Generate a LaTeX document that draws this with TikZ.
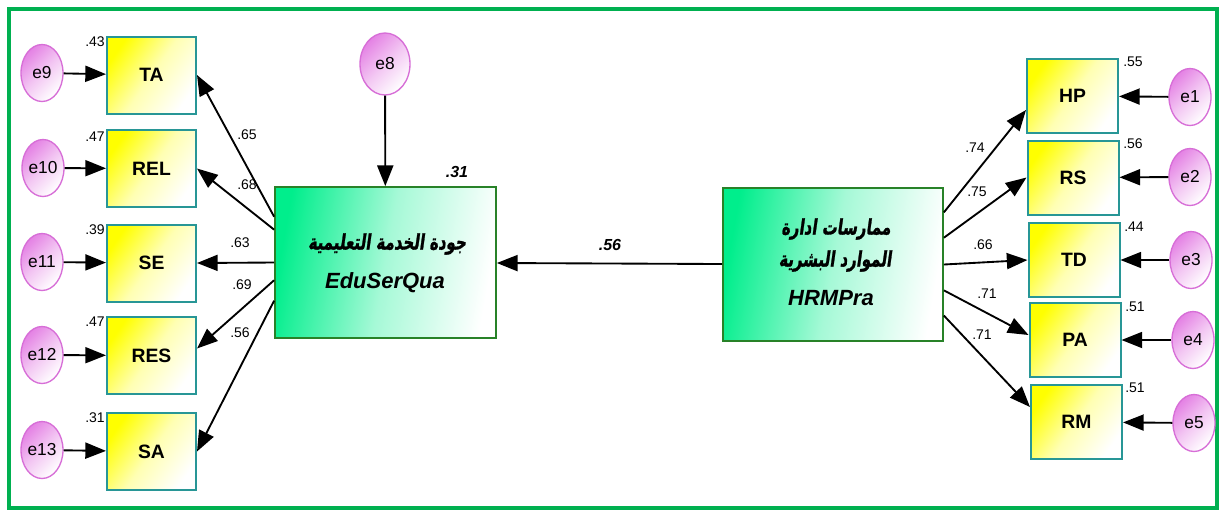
\documentclass[tikz,border=0pt]{standalone}
\usepackage{fontspec}
\setmainfont{Liberation Sans}
\newfontfamily\arabicfont[Script=Arabic,FakeSlant=0.2,FakeBold=1.6]{DejaVu Sans}
\TeXXeTstate=1
\usetikzlibrary{arrows.meta,calc,shapes.geometric}
\definecolor{frameg}{RGB}{0,176,80}
\definecolor{teal}{RGB}{40,150,150}
\definecolor{dgreen}{RGB}{40,130,40}
\definecolor{sgreen}{RGB}{0,238,140}
\definecolor{pinkb}{RGB}{215,110,215}
\definecolor{pinkf}{RGB}{228,130,228}
\newcommand{\artxt}[1]{\scalebox{0.7}[1]{\arabicfont\bfseries\fontsize{16}{19}\selectfont\beginR #1\endR}}
\tikzset{
  obs/.style={draw=teal,line width=1.5pt,top color=yellow,bottom color=white,middle color=yellow!30,shading angle=55,
    minimum width=66.75pt,minimum height=57.75pt,inner sep=0pt,font=\bfseries\fontsize{14.5}{16}\selectfont},
  obsr/.style={obs,minimum width=68.25pt,minimum height=55.5pt},
  lat/.style={draw=dgreen,line width=1.3pt,left color=sgreen,right color=white,middle color=sgreen!35,shading angle=80,
    minimum width=165.75pt,minimum height=113.25pt,inner sep=0pt,align=center},
  err/.style={ellipse,draw=pinkb,line width=1pt,top color=pinkf,bottom color=white,middle color=pinkf!45,shading angle=45,
    minimum width=31.5pt,minimum height=42.75pt,inner sep=0pt,font=\fontsize{13}{14}\selectfont},
  arr/.style={line width=1.4pt,-{Triangle[length=15.5pt,width=12pt]}},
  coef/.style={font=\fontsize{10.5}{12}\selectfont,inner sep=0pt},
  big/.style={font=\bfseries\itshape\fontsize{12}{14}\selectfont,inner sep=0pt},
  atext/.style={inner sep=0pt}
}
\begin{document}
\begin{tikzpicture}[x=0.75pt,y=-0.75pt]
\useasboundingbox (0,0) rectangle (1223,512);
\fill[white] (0,0) rectangle (1223,512);
\draw[frameg,line width=3pt] (9,9) rectangle (1217,508);

% latent
\node[lat] (edu) at (385.5,262.5) {};
\node[atext] (edua) at (387,244) {\artxt{جودة الخدمة التعليمية}};
\node[font=\bfseries\itshape\fontsize{16.5}{18}\selectfont,inner sep=0pt] (edue) at (385,283) {EduSerQua};
\node[lat,minimum width=165pt,minimum height=114.75pt] (hrm) at (833,264.5) {};
\node[atext] (hrma1) at (836,229) {\artxt{ممارسات ادارة}};
\node[atext] (hrma2) at (835,261) {\artxt{الموارد البشرية}};
\node[font=\bfseries\itshape\fontsize{16.5}{18}\selectfont,inner sep=0pt] (hrme) at (831,298) {HRMPra};

% left observed
\node[obs] (TA) at (151.5,75) {TA};
\node[obs] (REL) at (151.5,168.5) {REL};
\node[obs] (SE) at (151.5,263) {SE};
\node[obs] (RES) at (151.5,355.5) {RES};
\node[obs] (SA) at (151.5,451.5) {SA};
% right observed
\node[obsr] (HP) at (1072.5,96) {HP};
\node[obsr] (RS) at (1073,177.5) {RS};
\node[obsr] (TD) at (1074,260) {TD};
\node[obsr] (PA) at (1075,340) {PA};
\node[obsr] (RM) at (1076.5,422) {RM};

% errors
\node[err] (e9) at (42,73) {e9};
\node[err] (e10) at (43,168) {e10};
\node[err] (e11) at (42,262) {e11};
\node[err] (e12) at (42,355) {e12};
\node[err] (e13) at (42,450) {e13};
\node[err,minimum width=37.5pt,minimum height=46.5pt] (e8) at (385,64) {e8};
\node[err] (e1) at (1190,97) {e1};
\node[err] (e2) at (1190,177) {e2};
\node[err] (e3) at (1191,260) {e3};
\node[err] (e4) at (1193,340) {e4};
\node[err] (e5) at (1194,423) {e5};

% error arrows
\draw[arr] (e9) -- (TA);
\draw[arr] (e10) -- (REL);
\draw[arr] (e11) -- (SE);
\draw[arr] (e12) -- (RES);
\draw[arr] (e13) -- (SA);
\draw[arr] (e8) -- (edu);
\draw[arr] (e1) -- (HP);
\draw[arr] (e2) -- (RS);
\draw[arr] (e3) -- (TD);
\draw[arr] (e4) -- (PA);
\draw[arr] (e5) -- (RM);

% structural
\draw[arr] (hrm) -- (edu);

% loadings left
\draw[arr] ($(edu.north west)!0.2!(edu.south west)$) -- (TA.east);
\draw[arr] ($(edu.north west)!0.285!(edu.south west)$) -- (REL.east);
\draw[arr] (edu.west) -- (SE.east);
\draw[arr] ($(edu.north west)!0.616!(edu.south west)$) -- ($(RES.east)+(0,-7)$);
\draw[arr] ($(edu.north west)!0.75!(edu.south west)$) -- (SA.east);
% loadings right
\draw[arr] ($(hrm.north east)!0.163!(hrm.south east)$) -- ($(HP.west)+(0,14)$);
\draw[arr] ($(hrm.north east)!0.327!(hrm.south east)$) -- (RS.west);
\draw[arr] (hrm.east) -- (TD.west);
\draw[arr] ($(hrm.north east)!0.667!(hrm.south east)$) -- ($(PA.west)+(0,-5)$);
\draw[arr] ($(hrm.north east)!0.83!(hrm.south east)$) -- ($(RM.west)+(0,-15)$);

% coefficient labels
\node[coef] (l65) at (247,135) {.65};
\node[coef] (l68) at (247,185) {.68};
\node[coef] (l63) at (240,243) {.63};
\node[coef] (l69) at (242,285) {.69};
\node[coef] (l56a) at (240,333) {.56};
\node[coef] (l74) at (975,148) {.74};
\node[coef] (l75) at (977,192) {.75};
\node[coef] (l66) at (983,245) {.66};
\node[coef] (l71a) at (987,294) {.71};
\node[coef] (l71b) at (982,335) {.71};
% R2
\node[coef] (r1) at (95,42) {.43};
\node[coef] (r2) at (95,137) {.47};
\node[coef] (r3) at (95,230) {.39};
\node[coef] (r4) at (95,322) {.47};
\node[coef] (r5) at (95,418) {.31};
\node[coef] (r6) at (1133,62) {.55};
\node[coef] (r7) at (1133,144) {.56};
\node[coef] (r8) at (1134,227) {.44};
\node[coef] (r9) at (1135,307) {.51};
\node[coef] (r10) at (1135,388) {.51};
\node[big] (r31) at (457,172) {.31};
\node[big] (s56) at (610,245) {.56};
\end{tikzpicture}
\end{document}
